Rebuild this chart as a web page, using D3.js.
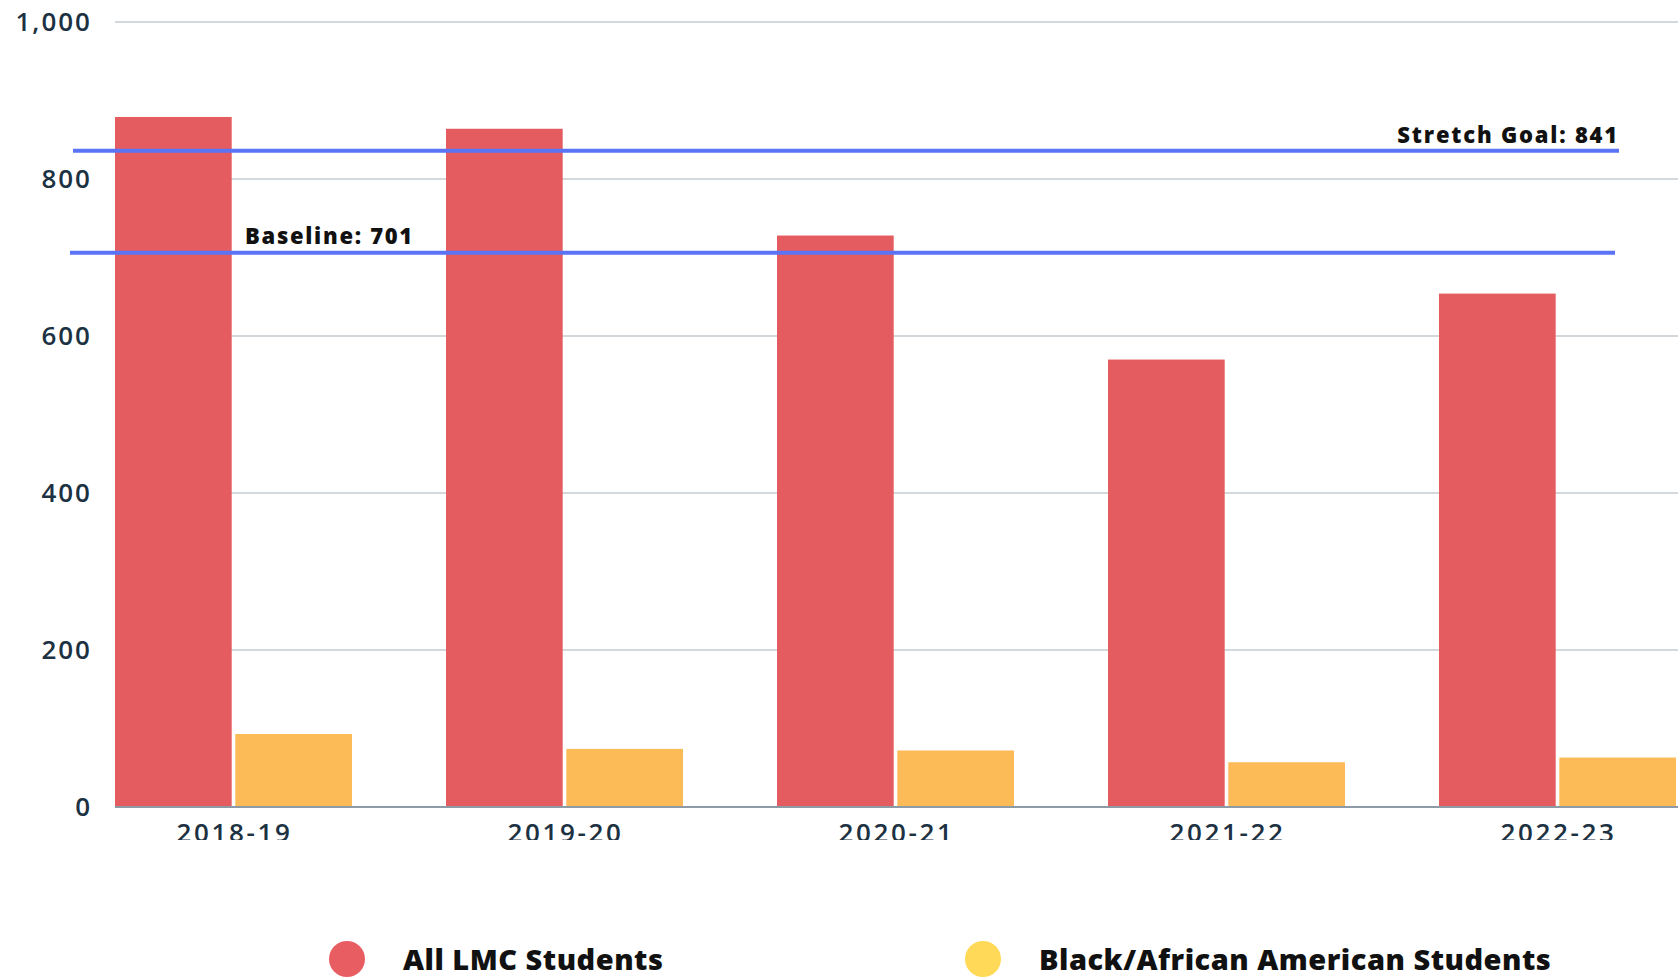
<!DOCTYPE html>
<html>
<head>
<meta charset="utf-8">
<script src="https://cdn.jsdelivr.net/npm/d3@7.9.0/dist/d3.min.js"></script>
<style>
  body { margin: 0; background: #fff; }
  svg { display: block; font-family: "Open Sans", Lato, sans-serif; }
</style>
</head>
<body>
<svg id="chart" width="1678" height="977"></svg>
<script>
// Data
const years = ['2018-19', '2019-20', '2020-21', '2021-22', '2022-23'];
const allStudents = [879, 864, 728, 570, 654];
const blackStudents = [93, 74, 72, 57, 63];
const yTicks = [0, 200, 400, 600, 800, 1000];
const goalLabels = ['Stretch Goal: 841', 'Baseline: 701'];
const goalValues = [836, 706]; // where the lines are actually drawn
const seriesNames = ['All LMC Students', 'Black/African American Students'];

const svg = d3.select('#chart');

const x = d3.scaleBand()
  .domain(years)
  .range([115, 1676])
  .paddingInner(0.284)
  .paddingOuter(0);

const xSub = d3.scaleBand()
  .domain([0, 1])
  .range([0, x.bandwidth()])
  .paddingInner(0.03);

const y = d3.scaleLinear()
  .domain([0, 1000])
  .range([807, 22]);

// gridlines
svg.append('g')
  .selectAll('line')
  .data(yTicks.filter(d => d > 0))
  .enter()
  .append('line')
  .attr('x1', 115)
  .attr('x2', 1678)
  .attr('y1', d => y(d))
  .attr('y2', d => y(d))
  .attr('stroke', '#d3d8dc')
  .attr('stroke-width', 2);

// y tick labels
svg.append('g')
  .selectAll('text')
  .data(yTicks)
  .enter()
  .append('text')
  .attr('x', 92)
  .attr('y', d => y(d))
  .attr('dy', '0.35em')
  .attr('text-anchor', 'end')
  .attr('fill', '#1c3142')
  .attr('font-size', 26)
  .attr('font-weight', 600)
  .attr('letter-spacing', 2)
  .text(d => d3.format(',')(d));

// bars
const groups = svg.append('g')
  .selectAll('g')
  .data(years.map((yr, i) => ({ yr, vals: [allStudents[i], blackStudents[i]] })))
  .enter()
  .append('g')
  .attr('transform', d => `translate(${x(d.yr)},0)`);

const barColors = ['#e55c60', '#fdbb58'];
groups.selectAll('rect')
  .data(d => d.vals)
  .enter()
  .append('rect')
  .attr('x', (d, i) => xSub(i))
  .attr('width', xSub.bandwidth())
  .attr('y', d => y(d))
  .attr('height', d => y(0) - y(d))
  .attr('fill', (d, i) => barColors[i]);

// zero axis line
svg.append('line')
  .attr('x1', 115).attr('x2', 1678)
  .attr('y1', y(0)).attr('y2', y(0))
  .attr('stroke', '#8c9ba6')
  .attr('stroke-width', 2);

// x labels, clipped at the bottom like the original
svg.append('clipPath').attr('id', 'xclip')
  .append('rect').attr('x', 0).attr('y', 809).attr('width', 1678).attr('height', 31);

svg.append('g')
  .attr('clip-path', 'url(#xclip)')
  .selectAll('text')
  .data(years)
  .enter()
  .append('text')
  .attr('x', d => x(d) + x.bandwidth() / 2 + 1)
  .attr('y', 842)
  .attr('text-anchor', 'middle')
  .attr('fill', '#1c3142')
  .attr('font-size', 26)
  .attr('font-weight', 600)
  .attr('letter-spacing', 2.6)
  .text(d => d);

// goal lines
const goalX = [[73, 1619], [70, 1615]];
svg.append('g')
  .selectAll('line')
  .data(goalValues)
  .enter()
  .append('line')
  .attr('x1', (d, i) => goalX[i][0])
  .attr('x2', (d, i) => goalX[i][1])
  .attr('y1', d => y(d))
  .attr('y2', d => y(d))
  .attr('stroke', '#5b73f5')
  .attr('stroke-width', 4);

svg.append('text')
  .attr('x', 1619)
  .attr('y', y(goalValues[0]) - 8)
  .attr('text-anchor', 'end')
  .attr('font-size', 22)
  .attr('font-weight', 800)
  .attr('letter-spacing', 1.8)
  .attr('fill', '#111')
  .text(goalLabels[0]);

svg.append('text')
  .attr('x', 245)
  .attr('y', y(goalValues[1]) - 9)
  .attr('font-size', 22)
  .attr('font-weight', 800)
  .attr('letter-spacing', 1.7)
  .attr('fill', '#111')
  .text(goalLabels[1]);

// legend
const legendColors = ['#e85d62', '#ffd957'];
const legendX = [347, 983];
const legend = svg.append('g')
  .selectAll('g')
  .data(seriesNames)
  .enter()
  .append('g')
  .attr('transform', (d, i) => `translate(${legendX[i]},959)`);

legend.append('circle')
  .attr('r', 18)
  .attr('fill', (d, i) => legendColors[i]);

legend.append('text')
  .attr('x', 56)
  .attr('y', 11)
  .attr('font-size', 29)
  .attr('font-weight', 800)
  .attr('letter-spacing', 0.5)
  .attr('fill', '#111')
  .text(d => d);
</script>
</body>
</html>
